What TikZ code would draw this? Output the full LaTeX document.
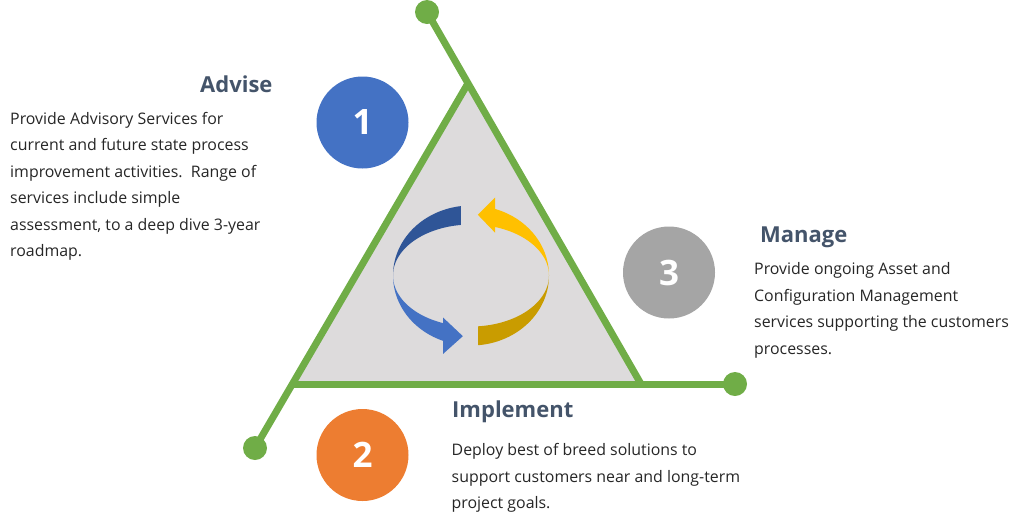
\documentclass[tikz,border=0pt]{standalone}
\usepackage{fontspec}
\setmainfont{Open Sans}
\definecolor{gline}{HTML}{70AD47}
\definecolor{trifill}{RGB}{221,219,220}
\definecolor{cblue}{HTML}{4472C4}
\definecolor{cblued}{HTML}{2F5597}
\definecolor{corange}{HTML}{ED7D31}
\definecolor{cgray}{HTML}{A5A5A5}
\definecolor{cyel}{HTML}{FFC000}
\definecolor{cyeld}{RGB}{201,156,0}
\definecolor{ttl}{HTML}{44546A}
\definecolor{bodyc}{HTML}{262626}
\begin{document}
\begin{tikzpicture}[x=1pt,y=-1pt,
  greenline/.style={draw=gline,line width=7pt},
  enddot/.style={circle,fill=gline,minimum size=24pt,inner sep=0pt},
  numcirc/.style={circle,minimum size=92pt,inner sep=0pt,text=white,font=\fontsize{35}{35}\selectfont\bfseries},
  ttlstyle/.style={anchor=base west,inner sep=0pt,text=ttl,font=\fontsize{22}{22}\selectfont\bfseries},
  bodystyle/.style={anchor=base west,inner sep=0pt,text=bodyc,align=left,font=\fontsize{15.9}{26.5}\selectfont}]
\useasboundingbox (0,0) rectangle (1024,523);
% triangle
\coordinate (apex) at (467,85);
\coordinate (bl) at (294,384);
\coordinate (br) at (641,384);
\fill[trifill] (apex) -- (bl) -- (br) -- cycle;
% end dots
\node[enddot] (dtop) at (427,12) {};
\node[enddot] (dleft) at (255,448) {};
\node[enddot] (dright) at (735,384) {};
% lines
\draw[greenline] (br) -- (dtop.center);
\draw[greenline] (apex) -- (dleft.center);
\draw[greenline] (bl) -- (dright.center);
% numbered circles
\node[numcirc,fill=cblue] (c1) at (362.5,122.5) {1};
\node[numcirc,fill=corange] (c2) at (362.5,455) {2};
\node[numcirc,fill=cgray] (c3) at (669,272.5) {3};
% cycle arrows
\def\cx{471}\def\cy{275.5}\def\rx{78}\def\ro{70}\def\ri{51}
\fill[cblued] plot[domain=262.6:180,samples=50] ({\cx+\rx*cos(\x)},{\cy+\ro*sin(\x)})
  -- plot[domain=180:262.6,samples=50] ({\cx+\rx*cos(\x)},{\cy+\ri*sin(\x)}) -- cycle;
\fill[cblue] plot[domain=180:111,samples=50] ({\cx+\rx*cos(\x)},{\cy+\ro*sin(\x)})
  -- ({\cx+\rx*cos(111)},{\cy+84*sin(111)})
  -- ({\cx+\rx*cos(96)},{\cy+61*sin(96)})
  -- ({\cx+\rx*cos(111)},{\cy+45*sin(111)})
  -- plot[domain=111:180,samples=50] ({\cx+\rx*cos(\x)},{\cy+\ri*sin(\x)}) -- cycle;
\fill[cyeld] plot[domain=84.8:0,samples=50] ({\cx+\rx*cos(\x)},{\cy+\ro*sin(\x)})
  -- plot[domain=0:84.8,samples=50] ({\cx+\rx*cos(\x)},{\cy+\ri*sin(\x)}) -- cycle;
\fill[cyel] plot[domain=0:-72,samples=50] ({\cx+\rx*cos(\x)},{\cy+\ro*sin(\x)})
  -- ({\cx+\rx*cos(-72)},{\cy+82*sin(-72)})
  -- ({\cx+\rx*cos(-85)},{\cy+61*sin(-85)})
  -- ({\cx+\rx*cos(-72)},{\cy+45*sin(-72)})
  -- plot[domain=-72:0,samples=50] ({\cx+\rx*cos(\x)},{\cy+\ri*sin(\x)}) -- cycle;
% texts (base anchor = baseline of last line)
\node[ttlstyle] (t1) at (200,92) {Advise};
\node[bodystyle] (b1) at (10,256.8) {Provide Advisory Services for\\current and future state process\\improvement activities.\ \ Range of\\services include simple\\assessment, to a deep dive 3-year\\roadmap.};
\node[ttlstyle] (t3) at (760,242) {Manage};
\node[bodystyle] (b3) at (754,354) {Provide ongoing Asset and\\Configuration Management\\services supporting the customers\\processes.};
\node[ttlstyle] (t2) at (452,417) {Implement};
\node[bodystyle] (b2) at (451.5,508.5) {Deploy best of breed solutions to\\support customers near and long-term\\project goals.};
\end{tikzpicture}
\end{document}
